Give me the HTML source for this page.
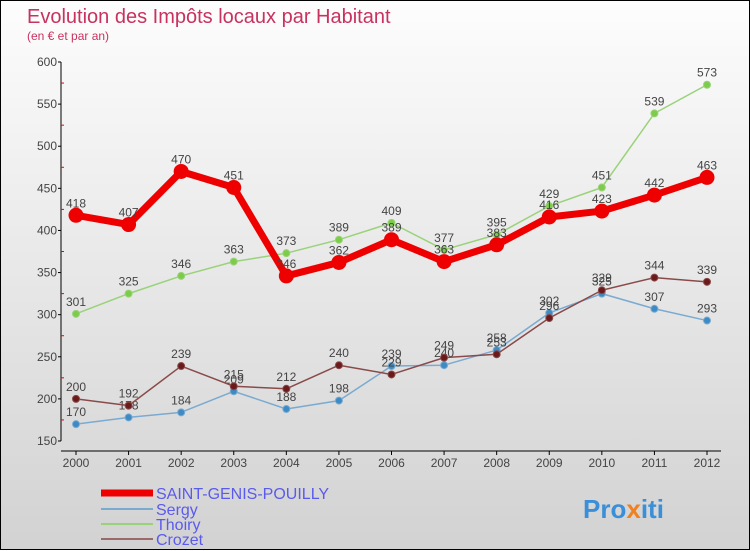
<!DOCTYPE html>
<html><head><meta charset="utf-8"><style>
html,body{margin:0;padding:0}
body{width:750px;height:550px;overflow:hidden;font-family:"Liberation Sans",sans-serif}
#wrap{position:relative;width:748px;height:548px;border:1px solid #000;background:linear-gradient(#fdfdfd,#d2d2d2)}
svg{position:absolute;left:0;top:0}
</style></head><body>
<div id="wrap">
<svg id="chart" width="750" height="550">
<text x="26" y="22" font-size="20" fill="#c8325f">Evolution des Impôts locaux par Habitant</text>
<text x="26" y="39" font-size="12" fill="#c8325f">(en € et par an)</text>
<g id="axes"></g><g id="series"></g><g id="legend"></g>
<text x="582" y="517" font-size="26" font-weight="bold" fill="#3a8fd8">Pro<tspan fill="#f08020">x</tspan>iti</text>
</svg></div>
<script>
const years=[2000,2001,2002,2003,2004,2005,2006,2007,2008,2009,2010,2011,2012];
const yTicks=[150,200,250,300,350,400,450,500,550,600];
const sgp=[418,407,470,451,346,362,389,363,383,416,423,442,463];
const sergy=[170,178,184,209,188,198,239,240,258,302,325,307,293];
const thoiry=[301,325,346,363,373,389,409,377,395,429,451,539,573];
const crozet=[200,192,239,215,212,240,229,249,253,296,329,344,339];
const NS="http://www.w3.org/2000/svg";
const X=i=>75+i*(706-75)/(years.length-1);
const Y=v=>440-(v-150)*(440-61)/450;
function mk(tag,attrs,parent){const e=document.createElementNS(NS,tag);for(const k in attrs)e.setAttribute(k,attrs[k]);parent.appendChild(e);return e;}
const axes=document.getElementById('axes');
let e=mk('line',{x1:60,y1:Y(600),x2:60,y2:Y(150),stroke:'#000'},axes);


e=mk('line',{x1:60,y1:450,x2:720,y2:450,stroke:'#000'},axes);


yTicks.forEach(v=>{
  mk('line',{x1:57,y1:Y(v),x2:60,y2:Y(v),stroke:'#000'},axes);
  const t=mk('text',{x:56,y:Y(v)+4,'text-anchor':'end','font-size':12,fill:'#444'},axes);
  t.textContent=v;
  
  
  if(v<600){const m=mk('line',{x1:60,y1:Y(v+25),x2:63,y2:Y(v+25),stroke:'#e00'},axes);}
});
years.forEach((y,i)=>{
  mk('line',{x1:X(i),y1:450,x2:X(i),y2:454,stroke:'#000'},axes);
  const t=mk('text',{x:X(i),y:466,'text-anchor':'middle','font-size':12,fill:'#444'},axes);
  t.textContent=y;
  
  
});
const S=document.getElementById('series');
function draw(data,color,dot,w,r,name){
  const g=mk('g',{},S);
  
  
  const p=mk('polyline',{points:data.map((v,i)=>X(i)+','+Y(v)).join(' '),fill:'none',stroke:color,'stroke-width':w,'stroke-linejoin':'round'},g);
  
  
  data.forEach((v,i)=>{
    const c=mk('circle',{cx:X(i),cy:Y(v),r:r,fill:dot,stroke:color,'stroke-width':1},g);
    
    
    const t=mk('text',{x:X(i),y:Y(v)-8,'text-anchor':'middle','font-size':12,fill:'#444'},g);
    t.textContent=v;
    
    
  });
}
draw(thoiry,'#9ad27a','#7ccc4a',1.5,3.5,'thoiry');
draw(sergy,'#7aaad0','#3d8ac4',1.5,3.5,'sergy');
draw(crozet,'#8a4a4a','#6a1a1a',1.5,3.5,'crozet');
draw(sgp,'#ee0000','#ee0000',7,7,'saint-genis-pouilly');
const L=document.getElementById('legend');
[['SAINT-GENIS-POUILLY','#ee0000',7,492],['Sergy','#7aaad0',2,508],['Thoiry','#9ad27a',2,523],['Crozet','#9a6a6a',2,538]].forEach(d=>{
  const g=mk('g',{},L);
  
  
  mk('line',{x1:100,y1:d[3],x2:152,y2:d[3],stroke:d[1],'stroke-width':d[2]},g);
  const t=mk('text',{x:155,y:d[3]+6,'font-size':16,fill:'#5a5aee'},g);
  t.textContent=d[0];
});
</script>
</body></html>
